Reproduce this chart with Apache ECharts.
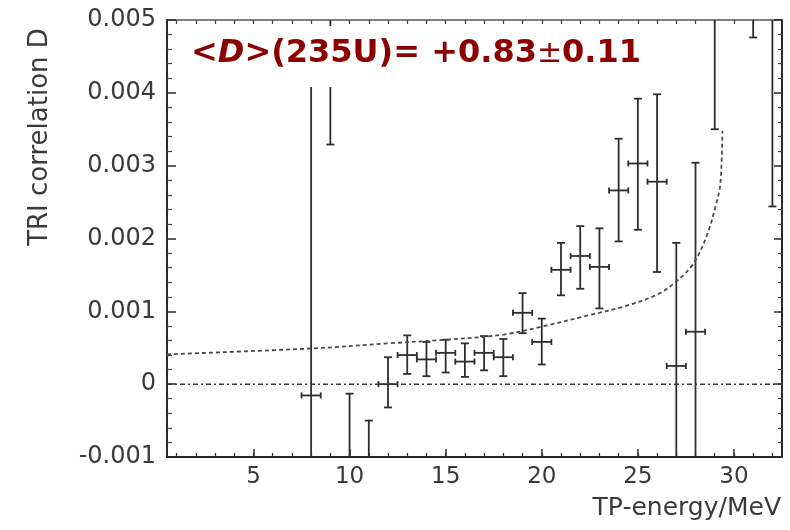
<!DOCTYPE html>
<html><head><meta charset="utf-8">
<script src="https://cdn.jsdelivr.net/npm/echarts@6/dist/echarts.min.js"></script>
<style>html,body{margin:0;padding:0;background:#fff}#c{width:790px;height:530px}</style>
</head><body><div id="c"></div>
<script>
// ---- data ----
const energy          = [8, 9, 10, 11, 12, 13, 14, 15, 16, 17, 18, 19, 20, 21, 22, 23, 24, 25, 26, 27, 28, 29, 31, 32];
const energyHalfWidth = [0.5, 0.5, 0.5, 0.5, 0.5, 0.5, 0.5, 0.5, 0.5, 0.5, 0.5, 0.5, 0.5, 0.5, 0.5, 0.5, 0.5, 0.5, 0.5, 0.5, 0.5, 0.5, 0.5, 0.5];
const correlation     = [-0.000155, 0.0062, -0.0016, -0.0014, 0.0000, 0.00040, 0.00034, 0.00043, 0.00031, 0.00043, 0.00037, 0.00098, 0.00058, 0.00157, 0.00176, 0.00161, 0.00266, 0.00303, 0.00278, 0.00025, 0.00072, 0.0065, 0.0058, 0.0055];
const correlationLow  = [-0.0048, 0.00329, -0.0031, -0.0023, -0.00032, 0.00014, 0.00011, 0.00016, 0.00010, 0.00019, 0.00011, 0.00070, 0.00027, 0.00122, 0.00131, 0.00104, 0.00196, 0.00212, 0.00154, -0.00144, -0.0016, 0.0035, 0.00476, 0.00244];
const correlationHigh = [0.0045, 0.0091, -0.00013, -0.0005, 0.00037, 0.00067, 0.00058, 0.00061, 0.00056, 0.00066, 0.00062, 0.00125, 0.00090, 0.00194, 0.00217, 0.00214, 0.00337, 0.00392, 0.00398, 0.00194, 0.00304, 0.0095, 0.0068, 0.0086];

const fitEnergy      = [0.5, 8, 12, 15, 18, 20, 22.5, 24.2, 26, 27, 27.9, 28.6, 29.1, 29.3, 29.4];
const fitCorrelation = [0.00041, 0.00049, 0.00056, 0.00061, 0.00068, 0.00079, 0.00095, 0.00106, 0.00123, 0.00141, 0.00166, 0.00205, 0.0025, 0.00277, 0.00348];

const zeroEnergy      = [0.5, 32.5];
const zeroCorrelation = [0, 0];

const xMajorTicks = [5, 10, 15, 20, 25, 30];
const xMinorTicks = [1,2,3,4,5,6,7,8,9,10,11,12,13,14,15,16,17,18,19,20,21,22,23,24,25,26,27,28,29,30,31,32];

const annotation = '{a|<}{i|D}{a|>(235U)= +0.83}{s|±}{a|0.11}';
const yTitle = 'TRI correlation D';
const xTitle = 'TP-energy/MeV';

// ---- chart ----
const chart = echarts.init(document.getElementById('c'), null, {renderer: 'canvas'});
const FONT = '"DejaVu Sans", "Liberation Sans", sans-serif';
const AX = '#2a2a2a';
const X_MIN = 0.5, X_MAX = 32.5;

const barData = energy.map((e, i) => [e, correlation[i], e - energyHalfWidth[i], e + energyHalfWidth[i], correlationLow[i], correlationHigh[i]]);
const fitData = fitEnergy.map((e, i) => [e, fitCorrelation[i]]);
const zeroData = zeroEnergy.map((e, i) => [e, zeroCorrelation[i]]);

function renderErrorBar(params, api) {
  const x = api.value(0), y = api.value(1);
  const pL = api.coord([api.value(2), y]);
  const pH = api.coord([api.value(3), y]);
  const pB = api.coord([x, api.value(4)]);
  const pT = api.coord([x, api.value(5)]);
  const cap = 4, hcap = 3;
  const style = {stroke: '#2e2e2e', lineWidth: 1.8, fill: null};
  const ln = (x1, y1, x2, y2) => ({type: 'line', shape: {x1, y1, x2, y2}, style});
  return {type: 'group', children: [
    ln(pB[0], pB[1], pT[0], pT[1]),
    ln(pB[0] - cap, pB[1], pB[0] + cap, pB[1]),
    ln(pT[0] - cap, pT[1], pT[0] + cap, pT[1]),
    ln(pL[0], pL[1], pH[0], pH[1]),
    ln(pL[0], pL[1] - hcap, pL[0], pL[1] + hcap),
    ln(pH[0], pH[1] - hcap, pH[0], pH[1] + hcap)
  ]};
}

chart.setOption({
  animation: false,
  backgroundColor: '#fff',
  grid: {left: 167, right: 8, top: 20, bottom: 73, containLabel: false},
  xAxis: [
    {type: 'value', position: 'bottom', min: X_MIN, max: X_MAX,
     axisLine: {show: true, onZero: false, lineStyle: {color: AX, width: 2}},
     axisTick: {show: true, inside: true, length: 8, customValues: xMajorTicks, lineStyle: {color: AX, width: 1.5}},
     axisLabel: {show: true, customValues: xMajorTicks, margin: 9, color: '#3a3a3a', fontSize: 23, fontFamily: FONT},
     splitLine: {show: false}},
    {type: 'value', position: 'bottom', min: X_MIN, max: X_MAX,
     axisLine: {show: false, onZero: false},
     axisTick: {show: true, inside: true, length: 4, customValues: xMinorTicks, lineStyle: {color: AX, width: 1.2}},
     axisLabel: {show: false}, splitLine: {show: false}},
    {type: 'value', position: 'top', min: X_MIN, max: X_MAX,
     axisLine: {show: true, onZero: false, lineStyle: {color: '#555', width: 1.5}},
     axisTick: {show: true, inside: true, length: 4, customValues: xMinorTicks, lineStyle: {color: '#444', width: 1.2}},
     axisLabel: {show: false}, splitLine: {show: false}}
  ],
  yAxis: [
    {type: 'value', position: 'left', min: -0.001, max: 0.005, interval: 0.001,
     axisLine: {show: true, onZero: false, lineStyle: {color: AX, width: 2}},
     axisTick: {show: true, inside: true, length: 9, lineStyle: {color: AX, width: 1.5}},
     minorTick: {show: true, splitNumber: 5, length: 5, lineStyle: {color: '#444', width: 1.2}},
     axisLabel: {show: true, margin: 11, color: '#3a3a3a', fontSize: 24, fontFamily: FONT},
     splitLine: {show: false}},
    {type: 'value', position: 'right', min: -0.001, max: 0.005, interval: 0.001,
     axisLine: {show: true, onZero: false, lineStyle: {color: AX, width: 2}},
     axisTick: {show: true, inside: true, length: 8, lineStyle: {color: AX, width: 1.5}},
     minorTick: {show: true, splitNumber: 5, length: 4, lineStyle: {color: '#444', width: 1.2}},
     axisLabel: {show: false}, splitLine: {show: false}}
  ],
  series: [
    {type: 'line', name: 'zero', xAxisIndex: 0, yAxisIndex: 0, data: zeroData, silent: true,
     showSymbol: false, symbol: 'none',
     lineStyle: {color: '#3a3a3a', width: 1.5, type: [5, 3, 2, 3]}},
    {type: 'line', name: 'fit', xAxisIndex: 0, yAxisIndex: 0, data: fitData, smooth: 0.35,
     showSymbol: false, symbol: 'none', clip: true,
     lineStyle: {color: '#4a4a4a', width: 1.8, type: [4, 3]}},
    {type: 'custom', name: 'D', xAxisIndex: 0, yAxisIndex: 0, clip: true,
     renderItem: renderErrorBar, data: barData,
     encode: {x: [0, 2, 3], y: [1, 4, 5]}}
  ],
  graphic: [
    {type: 'rect', z: 100, shape: {x: 186, y: 26, width: 470, height: 61}, style: {fill: '#fff'}},
    {type: 'text', z: 101, x: 191, y: 54,
     style: {text: annotation, textVerticalAlign: 'middle', textAlign: 'left',
       rich: {
         a: {fontFamily: FONT, fontWeight: 'bold', fontSize: 32, fill: '#8b0000'},
         i: {fontFamily: FONT, fontWeight: 'bold', fontStyle: 'italic', fontSize: 32, fill: '#8b0000'},
         s: {fontFamily: FONT, fontWeight: 'normal', fontSize: 30, fill: '#8b0000'}
       }}},
    {type: 'text', z: 101, x: 40, y: 137, rotation: Math.PI / 2,
     style: {text: yTitle, font: '26px ' + FONT, fill: '#3a3a3a', textAlign: 'center', textVerticalAlign: 'middle'}},
    {type: 'text', z: 101, x: 781, y: 508,
     style: {text: xTitle, font: '25px ' + FONT, fill: '#3a3a3a', textAlign: 'right', textVerticalAlign: 'middle'}}
  ]
});
</script>
</body></html>
